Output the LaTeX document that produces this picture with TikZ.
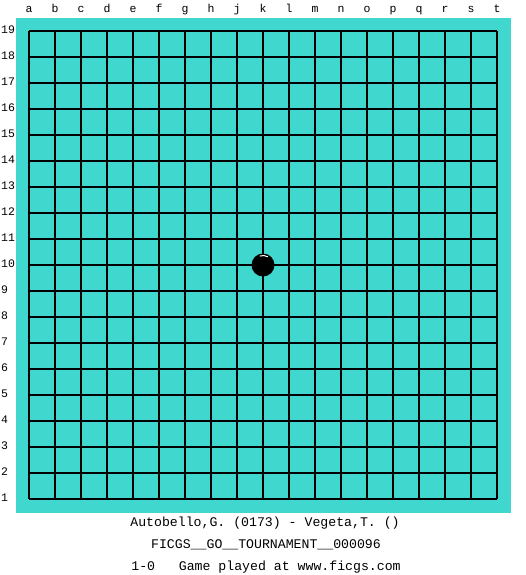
\documentclass[tikz,border=0pt]{standalone}
\usepackage{fontspec}
\newfontfamily\boardfont{Liberation Mono}
\definecolor{turq}{RGB}{64,216,206}
\tikzset{
  lbl/.style={font=\boardfont\fontsize{11.5}{12}\selectfont, inner sep=0pt, text height=1.6ex, text depth=0.3ex},
  caption/.style={font=\boardfont\fontsize{13.2}{14}\selectfont, inner sep=0pt},
  gridline/.style={line width=1.4pt, black}
}
\begin{document}
\begin{tikzpicture}[x=1pt,y=-1pt]
  \def\cell{26}
  \useasboundingbox (0,0) rectangle (525,575);
  \fill[turq] (16,18) rectangle (511,513);
  % grid
  \foreach \i in {0,...,18}{
    \draw[gridline] ({29+\i*\cell},31) -- ({29+\i*\cell},499);
    \draw[gridline] (29,{31+\i*\cell}) -- (497,{31+\i*\cell});
  }
  % coordinates
  \foreach [count=\i from 0] \c in {a,b,c,d,e,f,g,h,j,k,l,m,n,o,p,q,r,s,t}
    \node (col\c) [lbl] at ({29+\i*\cell},10) {\c};
  \foreach \r in {1,...,19}
    \node (row\r) [lbl, anchor=west] at (1,{499-(\r-1)*\cell}) {\r};
  % stone on k10
  \coordinate (stone) at (263,265);
  \fill[black] (stone) circle (11.5);
  \draw[white, line width=1pt] (stone) ++(-110:9.5) arc[start angle=-110, end angle=-60, radius=9.5];
  % caption
  \node (players) [caption] at (265,523) {Autobello,G. (0173) - Vegeta,T. ()};
  \node (event) [caption] at (266,545) {FICGS\_\_GO\_\_TOURNAMENT\_\_000096};
  \node (result) [caption] at (266,567) {1-0\ \ \ Game played at www.ficgs.com};
\end{tikzpicture}
\end{document}
